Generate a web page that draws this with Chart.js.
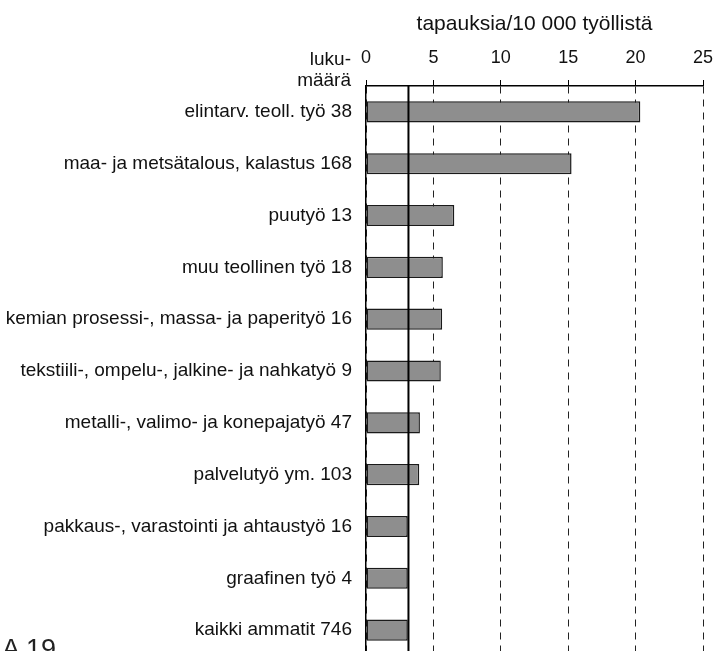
<!DOCTYPE html>
<html>
<head>
<meta charset="utf-8">
<script src="https://cdn.jsdelivr.net/npm/chart.js@4.4.1/dist/chart.umd.min.js"></script>
<style>
  html, body { margin: 0; padding: 0; background: #fff; overflow: hidden; width: 717px; height: 651px; }
  #wrap { position: absolute; left: 0; top: 0; width: 717px; height: 662px; }
  #pg { position: absolute; left: 2px; top: 634px; font-family: "Liberation Sans", Arial, sans-serif; font-size: 27px; color: #222; }
</style>
</head>
<body>
<div id="wrap"><canvas id="c" width="717" height="662"></canvas></div>
<div id="pg">A 19</div>
<script>
const categories = [
  "elintarv. teoll. työ 38",
  "maa- ja metsätalous, kalastus 168",
  "puutyö 13",
  "muu teollinen työ 18",
  "kemian prosessi-, massa- ja paperityö 16",
  "tekstiili-, ompelu-, jalkine- ja nahkatyö 9",
  "metalli-, valimo- ja konepajatyö 47",
  "palvelutyö ym. 103",
  "pakkaus-, varastointi ja ahtaustyö 16",
  "graafinen työ 4",
  "kaikki ammatit 746"
];
const ratePer10000 = [20.35, 15.25, 6.55, 5.7, 5.65, 5.55, 4.0, 3.95, 3.1, 3.1, 3.1];
const averageLine = 3.15;
const xTicks = [0, 5, 10, 15, 20, 25];
const axisTitle = "tapauksia/10 000 työllistä";
const countHeader = ["luku-", "määrä"];

const FONT = "'Liberation Sans', Arial, sans-serif";

const extras = {
  id: 'extras',
  afterDatasetsDraw(chart) {
    const {ctx, chartArea, scales} = chart;
    const x = scales.x.getPixelForValue(averageLine);
    ctx.save();
    ctx.strokeStyle = '#000';
    ctx.lineWidth = 2;
    ctx.beginPath();
    ctx.moveTo(x, chartArea.top);
    ctx.lineTo(x, chartArea.bottom);
    ctx.stroke();
    ctx.fillStyle = '#111';
    ctx.font = "19px " + FONT;
    ctx.textAlign = 'right';
    ctx.textBaseline = 'alphabetic';
    ctx.fillText(countHeader[0], chartArea.left - 15, 65);
    ctx.fillText(countHeader[1], chartArea.left - 15, 86);
    ctx.restore();
  }
};

new Chart(document.getElementById('c'), {
  type: 'bar',
  data: {
    labels: categories,
    datasets: [{
      data: ratePer10000,
      backgroundColor: '#8e8e8e',
      borderColor: '#1a1a1a',
      borderWidth: 1.5,
      borderSkipped: false,
      categoryPercentage: 0.8,
      barPercentage: 0.51
    }]
  },
  options: {
    indexAxis: 'y',
    responsive: false,
    animation: false,
    devicePixelRatio: 1,
    layout: { padding: { left: 0, right: 14, top: 0, bottom: 6 } },
    plugins: { legend: { display: false }, tooltip: { enabled: false }, title: { display: false } },
    scales: {
      x: {
        position: 'top',
        min: 0, max: 25,
        afterBuildTicks(s) { s.ticks = xTicks.map(v => ({ value: v })); },
        afterFit(s) { s.height = 86; s.paddingLeft = 0; s.paddingRight = 0; },
        ticks: { color: '#111', font: { family: FONT, size: 18 }, padding: 11, maxRotation: 0 },
        grid: { color: '#222', lineWidth: 1, tickLength: 6, tickColor: '#000', tickBorderDash: [], drawOnChartArea: true },
        border: { display: true, color: '#000', width: 1.5, dash: [7, 6] },
        title: { display: true, text: axisTitle, color: '#111', font: { family: FONT, size: 21 }, padding: { top: 11.5, bottom: 0 } }
      },
      y: {
        afterFit(s) { s.width = 366; s.paddingTop = 0; s.paddingBottom = 0; },
        ticks: { color: '#111', font: { family: FONT, size: 19 }, padding: 14 },
        grid: { display: false, drawTicks: false },
        border: { display: true, color: '#000', width: 1.5 }
      }
    }
  },
  plugins: [extras]
});
</script>
</body>
</html>
